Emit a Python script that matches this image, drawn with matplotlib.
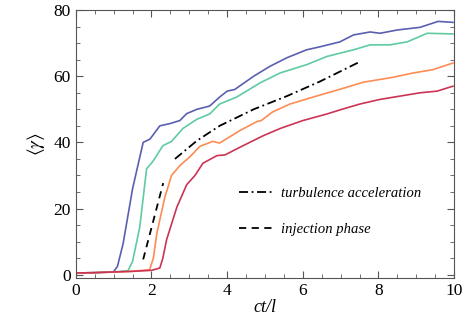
import numpy as np
import matplotlib
matplotlib.use("Agg")
import matplotlib.pyplot as plt
from matplotlib.ticker import MultipleLocator

plt.rcParams['font.family'] = ['Liberation Serif', 'DejaVu Serif']
plt.rcParams['mathtext.fontset'] = 'stix'

# ── mean Lorentz factor vs time, four runs ──
t_blue = [0, 0.5, 1.0, 1.1, 1.25, 1.5, 1.78, 1.96, 2.22, 2.49, 2.75, 2.93, 3.2, 3.54, 3.8,
          4.0, 4.2, 4.7, 5.13, 5.58, 6.1, 6.45, 6.98, 7.34, 7.78, 8.04, 8.5, 9.1, 9.58, 9.97]
g_blue = [0.5, 0.6, 0.9, 2.5, 9.4, 26, 40, 41, 45, 45.7, 46.6, 48.7, 50, 51, 53.7,
          55.5, 56, 60, 63, 65.6, 68, 68.9, 70.4, 72.5, 73.4, 73, 74, 74.8, 76.6, 76.3]

t_teal = [0, 0.5, 1.0, 1.38, 1.5, 1.69, 1.87, 2.04, 2.3, 2.53, 2.83, 3.2, 3.54, 3.8,
          4.25, 4.87, 5.4, 6.1, 6.64, 7.34, 7.78, 8.3, 8.76, 9.29, 9.97]
g_teal = [0.5, 0.6, 0.8, 1.2, 4, 14.4, 32, 34.3, 39, 40.3, 44.2, 47, 48.6, 51.6,
          53.7, 58, 61, 63.5, 66, 68, 69.5, 69.5, 70.4, 73, 72.8]

t_orange = [0, 0.5, 1.0, 1.5, 1.95, 2.05, 2.14, 2.35, 2.53, 2.75, 3.02, 3.28, 3.62, 3.8,
            4.34, 4.79, 4.9, 5.2, 5.66, 6.27, 6.72, 7.17, 7.6, 8.39, 8.92, 9.44, 9.97]
g_orange = [0.5, 0.6, 0.8, 1.0, 1.5, 5, 12.4, 23.3, 30, 33, 35.7, 38.8, 40.3, 39.8,
            43.6, 46.3, 46.6, 49.2, 51.6, 53.7, 55.2, 56.7, 58.2, 59.7, 61, 62, 64]

t_red = [0, 0.5, 1.0, 1.5, 2.0, 2.22, 2.3, 2.4, 2.67, 2.93, 3.15, 3.36, 3.73, 3.94,
         4.42, 4.95, 5.4, 6.0, 6.64, 7.06, 7.51, 8.04, 8.57, 9.1, 9.55, 9.97]
g_red = [0.5, 0.6, 0.8, 1.0, 1.3, 2, 5, 10.6, 20.4, 27.2, 30, 33.7, 36, 36.2,
         39, 42, 44.2, 46.6, 48.6, 50.1, 51.6, 53, 54, 55, 55.5, 57]

# ── reference slopes ──
t_turb = [2.62, 3.2, 3.8, 4.7, 5.58, 6.45, 7.51]
g_turb = [35, 40.5, 45, 50, 54, 58.4, 64.4]
t_inj = [1.78, 2.31]
g_inj = [4.6, 27.7]

fig = plt.figure(figsize=(4.77, 3.27), dpi=100)
ax = fig.add_axes([0.159, 0.150, 0.793, 0.819])

ax.plot(t_blue, g_blue, color='#5b5fb0', lw=1.2)
ax.plot(t_teal, g_teal, color='#5ecba1', lw=1.2)
ax.plot(t_orange, g_orange, color='#fd8c55', lw=1.2)
ax.plot(t_red, g_red, color='#cc3355', lw=1.2)
ax.plot(t_turb, g_turb, color='k', ls=(0, (5, 2, 1, 2)), lw=1.3,
        label='turbulence acceleration')
ax.plot(t_inj, g_inj, color='k', ls=(0, (4, 3)), lw=1.3, label='injection phase')

ax.set_xlim(0, 10)
ax.set_ylim(-1, 80)
ax.xaxis.set_major_locator(MultipleLocator(2))
ax.xaxis.set_minor_locator(MultipleLocator(0.5))
ax.yaxis.set_major_locator(MultipleLocator(20))
ax.yaxis.set_minor_locator(MultipleLocator(5))
ax.tick_params(which='both', direction='in', top=True, right=True,
               colors='#555555', labelcolor='black', labelsize=12.5)
ax.tick_params(which='major', length=5)
ax.tick_params(which='minor', length=3)
for s in ax.spines.values():
    s.set_color('#555555')

ax.set_xlabel('ct/l', fontsize=13, style='italic', labelpad=0)
ax.set_ylabel(r'$\langle\gamma\rangle$', fontsize=14, labelpad=5)

leg = ax.legend(frameon=False, loc='upper left', bbox_to_anchor=(0.397, 0.39),
                handlelength=2.3, handletextpad=0.6, labelspacing=1.55,
                prop={'style': 'italic', 'size': 10.5})

fig.savefig('out.png', dpi=100)
